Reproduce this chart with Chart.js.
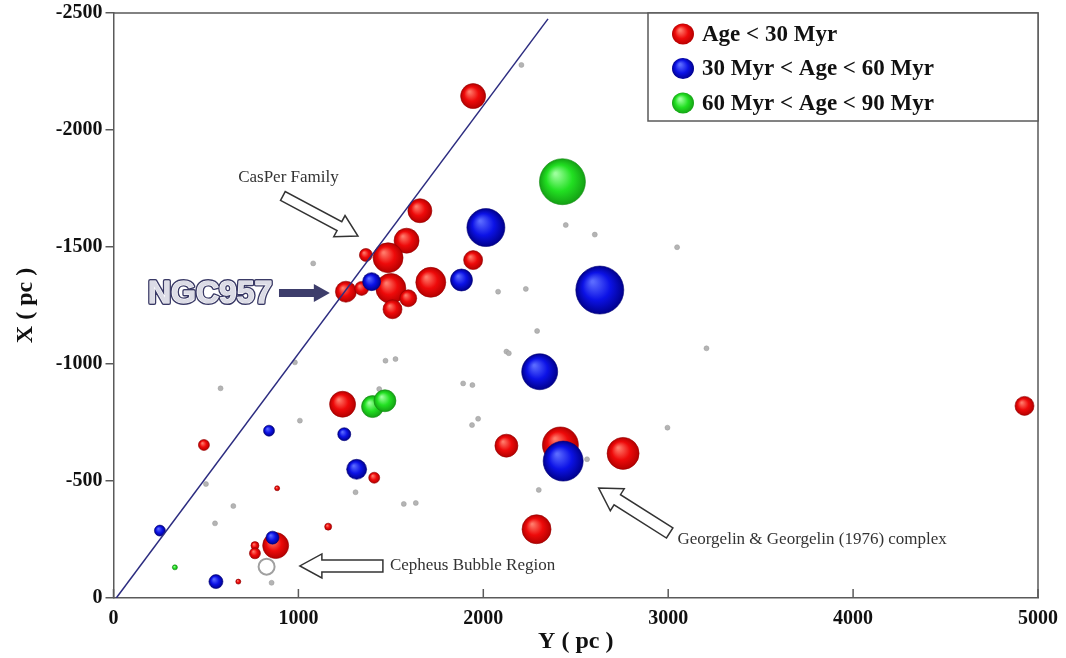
<!DOCTYPE html>
<html>
<head>
<meta charset="utf-8">
<script src="https://cdn.jsdelivr.net/npm/chart.js@4"></script>
<style>
  body { margin: 0; background: #fff; }
  #wrap { width: 1066px; height: 658px; }
</style>
</head>
<body>
<div id="wrap"><canvas id="chart" width="1066" height="658"></canvas></div>
<script>
// Cluster positions: Y (pc) on the horizontal axis, X (pc) on the vertical one, size = bubble radius
const redY = [1945, 1657, 1585, 1485, 1365, 1945, 1716, 1500, 1257, 1342, 1594, 1509, 4927, 1239, 2125, 2417, 2756, 2288, 1410, 489, 877, 765, 765, 885, 1161, 675];
const redX = [-2145, -1655, -1527, -1454, -1466, -1444, -1349, -1323, -1309, -1323, -1281, -1234, -821, -828, -651, -654, -618, -294, -514, -654, -224, -224, -191, -469, -305, -70];
const redSize = [12.5, 12, 12.5, 15, 6.5, 9.5, 15, 15, 10.5, 7, 8.5, 9.5, 9.5, 13, 11.5, 18, 16, 14.5, 5.5, 5.5, 13, 4, 5.5, 2.5, 3.5, 2.5];

const blueY = [2014, 1396, 1882, 2630, 2305, 2432, 1248, 1315, 841, 251, 860, 554];
const blueX = [-1583, -1352, -1359, -1316, -967, -585, -700, -550, -715, -288, -258, -70];
const blueSize = [19, 9, 11, 24, 18, 20, 6.5, 10, 5.5, 5.5, 6.5, 7];

const greenY = [2428, 1401, 1468, 332];
const greenX = [-1779, -818, -843, -131];
const greenSize = [23, 11, 11, 2.5];

// small grey field clusters
const greyY = [579, 1008, 500, 648, 549, 855, 1437, 1891, 1941, 1939, 1972, 1309, 1570, 1635, 2300, 2996, 2561, 2446, 2603, 3048, 2080, 2230, 2291, 2125, 2138, 3207, 2206, 1080, 981, 1471, 1525];
const greyX = [-896, -758, -487, -393, -319, -65, -893, -917, -910, -739, -766, -452, -402, -406, -462, -728, -593, -1594, -1553, -1499, -1309, -1321, -1141, -1053, -1046, -1067, -2278, -1430, -1007, -1014, -1021];

// open circle in the Cepheus bubble
const openY = [828];
const openX = [-134];
const openSize = [8];

// the straight line through the origin
const lineY = [15, 2350];
const lineX = [0, -2475];

const legendLabels = ['Age < 30 Myr', '30 Myr < Age < 60 Myr', '60 Myr < Age < 90 Myr'];

function toPoints(ys, xs, sizes) {
    return ys.map((v, i) => ({ x: v, y: xs[i], r: sizes ? sizes[i] : 2.5 }));
}

// shaded sphere look
function sphere(light, mid, dark) {
    return function(c) {
        const chart = c.chart;
        if (c.type !== 'data' || !chart.chartArea || !c.raw) return mid;
        const px = chart.scales.x.getPixelForValue(c.raw.x);
        const py = chart.scales.y.getPixelForValue(c.raw.y);
        const r = c.raw.r;
        const g = chart.ctx.createRadialGradient(px - r * 0.3, py - r * 0.35, r * 0.05, px, py, r);
        g.addColorStop(0, light);
        g.addColorStop(0.55, mid);
        g.addColorStop(1, dark);
        return g;
    };
}

function hollowArrow(ctx, x1, y1, x2, y2, w, hw, hl, fill, stroke) {
    const len = Math.hypot(x2 - x1, y2 - y1);
    const dx = (x2 - x1) / len, dy = (y2 - y1) / len;
    const nx = -dy, ny = dx;
    const mx = x2 - dx * hl, my = y2 - dy * hl;
    ctx.beginPath();
    ctx.moveTo(x1 + nx * w, y1 + ny * w);
    ctx.lineTo(mx + nx * w, my + ny * w);
    ctx.lineTo(mx + nx * hw, my + ny * hw);
    ctx.lineTo(x2, y2);
    ctx.lineTo(mx - nx * hw, my - ny * hw);
    ctx.lineTo(mx - nx * w, my - ny * w);
    ctx.lineTo(x1 - nx * w, y1 - ny * w);
    ctx.closePath();
    ctx.fillStyle = fill;
    ctx.fill();
    if (stroke) {
        ctx.strokeStyle = stroke;
        ctx.lineWidth = 1.5;
        ctx.stroke();
    }
}

// frame, inward x ticks, legend box and the annotations
const extras = {
    id: 'extras',
    afterDraw(chart) {
        const ctx = chart.ctx;
        const a = chart.chartArea;
        const sx = chart.scales.x, sy = chart.scales.y;
        const P = (y, x) => [sx.getPixelForValue(y), sy.getPixelForValue(x)];
        ctx.save();

        // top and right border
        ctx.strokeStyle = '#5a5a5a';
        ctx.lineWidth = 1.5;
        ctx.beginPath();
        ctx.moveTo(a.left, a.top);
        ctx.lineTo(a.right, a.top);
        ctx.lineTo(a.right, a.bottom);
        ctx.stroke();

        // x ticks point inwards
        sx.ticks.forEach(t => {
            const px = sx.getPixelForValue(t.value);
            ctx.beginPath();
            ctx.moveTo(px, a.bottom);
            ctx.lineTo(px, a.bottom - 9);
            ctx.stroke();
        });

        // legend
        const boxL = 648, boxB = 121;
        ctx.fillStyle = '#fff';
        ctx.fillRect(boxL, a.top, a.right - boxL, boxB - a.top);
        ctx.strokeRect(boxL, a.top, a.right - boxL, boxB - a.top);
        const cols = [['#ff7a6a', '#ee0a0a', '#b40000'], ['#5a6aff', '#0c12e6', '#00008c'], ['#9cff9c', '#22e022', '#14a014']];
        legendLabels.forEach((lab, i) => {
            const cy = 34 + i * 34.5;
            const g = ctx.createRadialGradient(680, cy - 4, 1, 683, cy, 11);
            g.addColorStop(0, cols[i][0]);
            g.addColorStop(0.55, cols[i][1]);
            g.addColorStop(1, cols[i][2]);
            ctx.fillStyle = g;
            ctx.beginPath();
            ctx.ellipse(683, cy, 11, 10.5, 0, 0, Math.PI * 2);
            ctx.fill();
            ctx.fillStyle = '#111';
            ctx.font = 'bold 23px "Liberation Serif"';
            ctx.textAlign = 'left';
            ctx.textBaseline = 'middle';
            ctx.fillText(lab, 702, cy + 1);
        });

        // annotations (positions in data units)
        ctx.font = '17px "Liberation Serif"';
        ctx.textBaseline = 'middle';
        let p = P(946, -1795);
        ctx.textAlign = 'center';
        ctx.fillStyle = '#333';
        ctx.fillText('CasPer Family', p[0], p[1]);
        let t = P(916, -1718), h = P(1322, -1547);
        hollowArrow(ctx, t[0], t[1], h[0], h[1], 5, 12, 21, '#fff', '#333');

        ctx.textAlign = 'left';
        p = P(1495, -137);
        ctx.fillStyle = '#333';
        ctx.fillText('Cepheus Bubble Region', p[0], p[1]);
        t = P(1457, -137); h = P(1008, -137);
        hollowArrow(ctx, t[0], t[1], h[0], h[1], 6, 12, 22, '#fff', '#333');

        p = P(3050, -252);
        ctx.fillStyle = '#333';
        ctx.fillText('Georgelin & Georgelin (1976) complex', p[0], p[1]);
        t = P(3008, -278); h = P(2624, -470);
        hollowArrow(ctx, t[0], t[1], h[0], h[1], 6, 13, 22, '#fff', '#333');

        // NGC957 label with outlined letters
        p = P(186, -1303);
        ctx.font = 'bold 32px "Liberation Sans"';
        ctx.lineJoin = 'round';
        ctx.strokeStyle = '#3a3a66';
        ctx.lineWidth = 4;
        ctx.strokeText('NGC957', p[0], p[1] + 1);
        ctx.strokeStyle = '#fff';
        ctx.lineWidth = 1.2;
        ctx.strokeText('NGC957', p[0], p[1] + 1);
        ctx.fillStyle = '#dcdce6';
        ctx.fillText('NGC957', p[0], p[1] + 1);
        t = P(895, -1303); h = P(1170, -1303);
        hollowArrow(ctx, t[0], t[1], h[0], h[1], 4, 9, 16, '#3d3d6b', null);

        ctx.restore();
    }
};

window.addEventListener('DOMContentLoaded', function() {
    const el = document.getElementById('chart').getContext('2d');
    const tickFont = { family: '"Liberation Serif"', size: 20, weight: 'bold' };
    const titleFont = { family: '"Liberation Serif"', size: 24, weight: 'bold' };

    new Chart(el, {
        type: 'bubble',
        data: {
            datasets: [
                {
                    type: 'line',
                    data: lineY.map((v, i) => ({ x: v, y: lineX[i] })),
                    borderColor: '#2c2c80',
                    borderWidth: 1.5,
                    pointRadius: 0,
                    fill: false,
                    order: 0
                },
                {
                    label: legendLabels[1],
                    data: toPoints(blueY, blueX, blueSize),
                    backgroundColor: sphere('#5a6aff', '#0c12e6', '#00008c'),
                    borderColor: 'rgba(0,0,120,0.6)',
                    borderWidth: 1,
                    order: 1
                },
                {
                    label: legendLabels[2],
                    data: toPoints(greenY, greenX, greenSize),
                    backgroundColor: sphere('#9cff9c', '#22e022', '#14a014'),
                    borderColor: 'rgba(20,140,20,0.6)',
                    borderWidth: 1,
                    order: 2
                },
                {
                    label: legendLabels[0],
                    data: toPoints(redY, redX, redSize),
                    backgroundColor: sphere('#ff7a6a', '#ee0a0a', '#b40000'),
                    borderColor: 'rgba(150,0,0,0.6)',
                    borderWidth: 1,
                    order: 3
                },
                {
                    data: toPoints(openY, openX, openSize),
                    backgroundColor: '#fff',
                    borderColor: '#a0a0a0',
                    borderWidth: 2,
                    order: 4
                },
                {
                    data: toPoints(greyY, greyX),
                    backgroundColor: '#b4b4b4',
                    borderColor: '#9a9a9a',
                    borderWidth: 0.5,
                    order: 5
                }
            ]
        },
        options: {
            responsive: false,
            animation: false,
            layout: { autoPadding: false, padding: { left: 0, right: 28, top: 13, bottom: 0 } },
            plugins: {
                legend: { display: false },
                tooltip: { enabled: false }
            },
            scales: {
                x: {
                    type: 'linear',
                    min: 0,
                    max: 5000,
                    afterFit: s => { s.height = 60; s.paddingRight = 0; s.paddingLeft = 0; },
                    border: { color: '#5a5a5a', width: 1.5 },
                    grid: { drawOnChartArea: false, drawTicks: false },
                    ticks: {
                        stepSize: 1000,
                        padding: 9,
                        color: '#111',
                        font: tickFont,
                        maxRotation: 0,
                        callback: v => String(v)
                    },
                    title: {
                        display: true,
                        text: 'Y ( pc )',
                        color: '#111',
                        font: titleFont,
                        padding: { top: 0, bottom: 2 }
                    }
                },
                y: {
                    type: 'linear',
                    min: -2500,
                    max: 0,
                    reverse: true,
                    afterFit: s => { s.width = 113.5; s.paddingTop = 0; s.paddingBottom = 0; },
                    border: { color: '#5a5a5a', width: 1.5 },
                    grid: { drawOnChartArea: false, drawTicks: true, tickLength: 8, color: '#5a5a5a', lineWidth: 1.5 },
                    ticks: {
                        stepSize: 500,
                        padding: 3,
                        color: '#111',
                        font: tickFont,
                        callback: v => String(v)
                    },
                    title: {
                        display: true,
                        text: 'X ( pc )',
                        color: '#111',
                        font: titleFont,
                        padding: { top: 11, bottom: 0 }
                    }
                }
            }
        },
        plugins: [extras]
    });
});
</script>
</body>
</html>
